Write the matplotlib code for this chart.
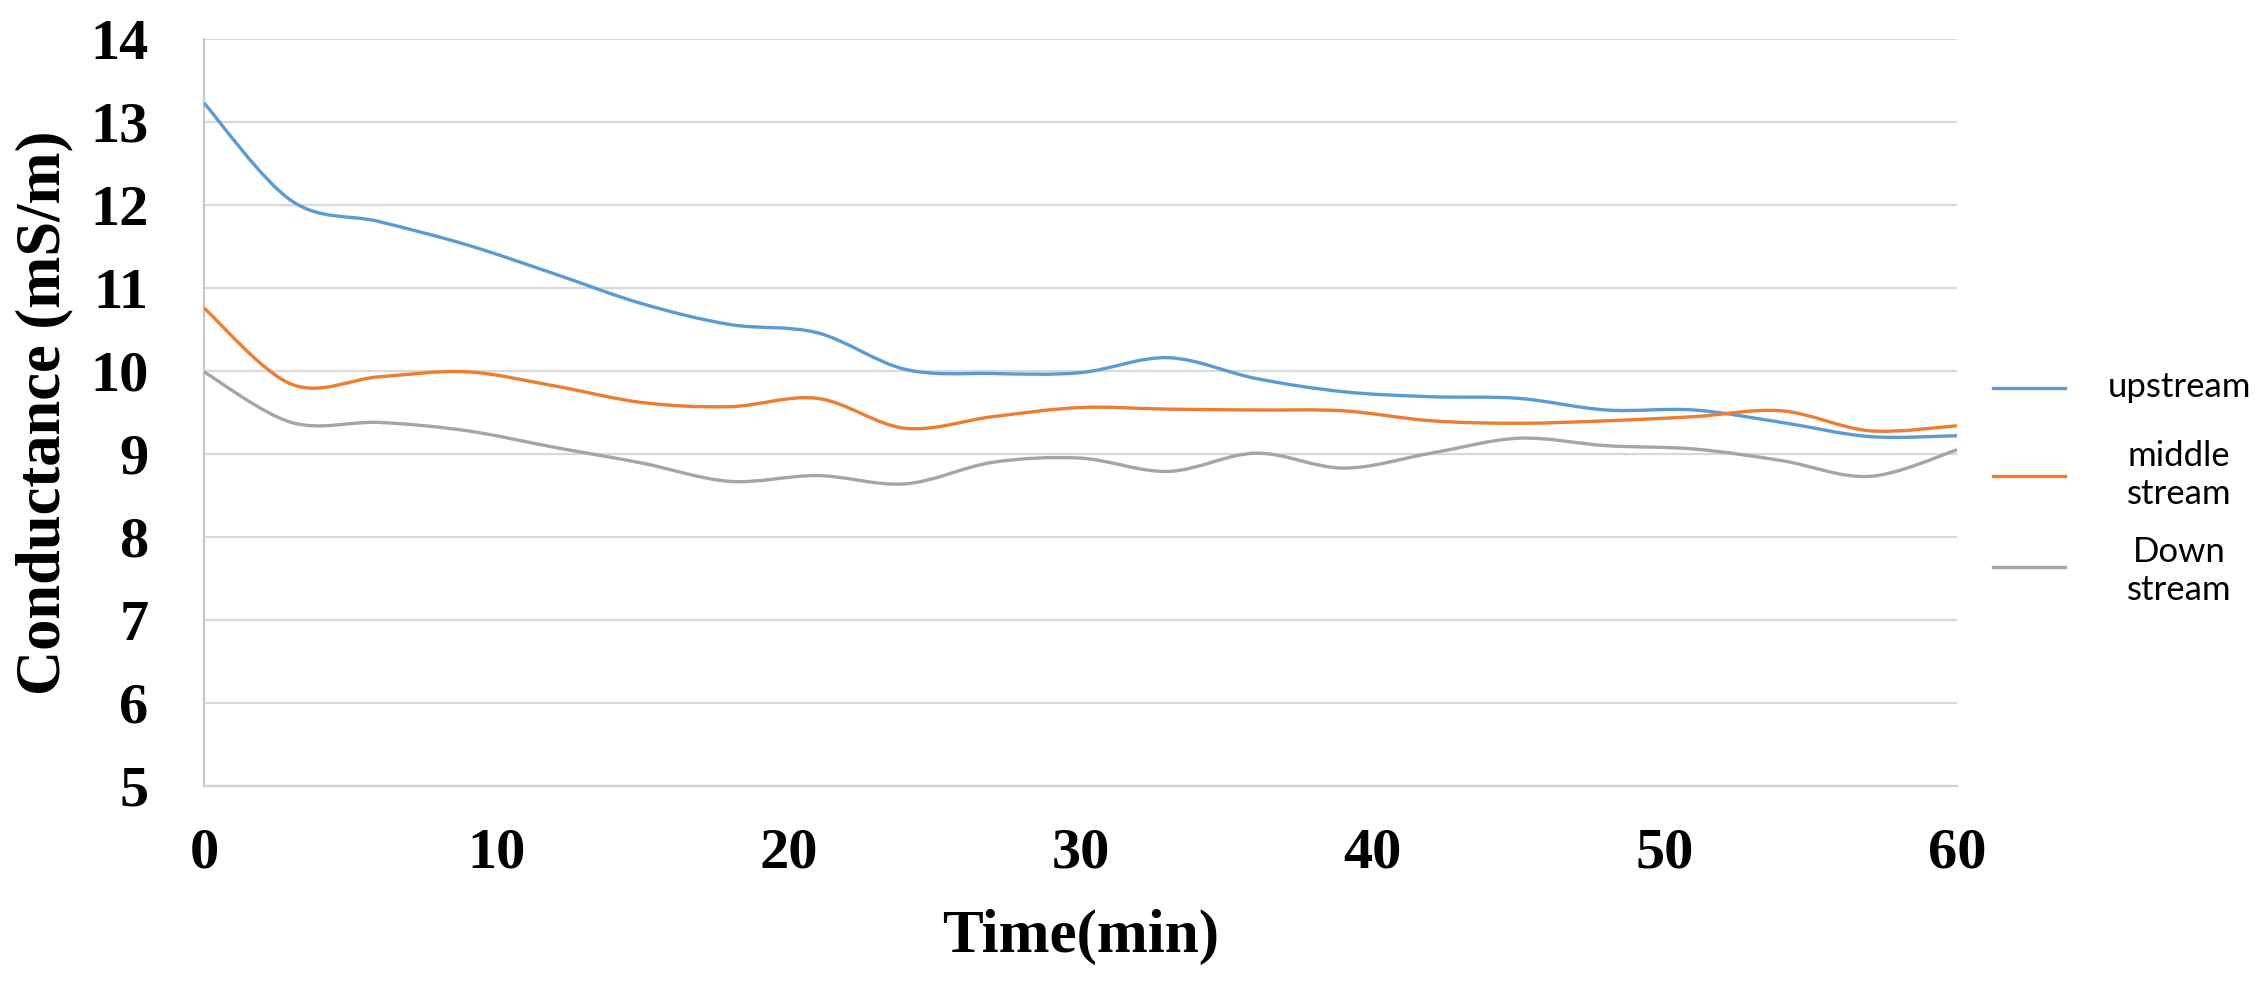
import matplotlib

matplotlib.use('Agg')

import numpy as np
import matplotlib.pyplot as plt
from matplotlib.path import Path
from matplotlib.patches import PathPatch
from matplotlib.lines import Line2D

# time (min), readings every 3 minutes
time_min = [0, 3, 6, 9, 12, 15, 18, 21, 24, 27, 30, 33, 36, 39, 42, 45, 48, 51, 54, 57, 60]

upstream = [13.23, 12.05, 11.80, 11.52, 11.17, 10.81, 10.56, 10.46, 10.02, 9.97, 9.98,
            10.16, 9.91, 9.75, 9.69, 9.67, 9.53, 9.53, 9.38, 9.21, 9.22]
middle_stream = [10.76, 9.84, 9.93, 9.99, 9.82, 9.62, 9.57, 9.67, 9.31, 9.45, 9.56,
                 9.54, 9.53, 9.52, 9.40, 9.37, 9.40, 9.45, 9.52, 9.28, 9.34]
down_stream = [9.99, 9.38, 9.38, 9.28, 9.08, 8.89, 8.67, 8.74, 8.64, 8.90, 8.95,
               8.79, 9.01, 8.83, 9.01, 9.19, 9.10, 9.06, 8.92, 8.73, 9.05]

series_labels = ['upstream', 'middle\nstream', 'Down\nstream']
series_colors = ['#5B9BD5', '#ED7D31', '#A5A5A5']

x_ticks = [0, 10, 20, 30, 40, 50, 60]
y_ticks = [5, 6, 7, 8, 9, 10, 11, 12, 13, 14]


def smooth_path(x, y):
    # Excel-style smoothed line: cubic Bezier through every data point
    x = np.asarray(x, float)
    y = np.asarray(y, float)
    n = len(x)
    verts = [(x[0], y[0])]
    codes = [Path.MOVETO]
    for i in range(n - 1):
        i0 = max(i - 1, 0)
        i3 = min(i + 2, n - 1)
        c1 = (x[i] + (x[i + 1] - x[i0]) / 6, y[i] + (y[i + 1] - y[i0]) / 6)
        c2 = (x[i + 1] - (x[i3] - x[i]) / 6, y[i + 1] - (y[i3] - y[i]) / 6)
        verts += [c1, c2, (x[i + 1], y[i + 1])]
        codes += [Path.CURVE4] * 3
    return Path(verts, codes)


W, H = 2261, 982
fig = plt.figure(figsize=(W / 100, H / 100), dpi=100)
ax = fig.add_axes([0.0902, 0.1996, 0.7754, 0.7607])

serif = 'Liberation Serif'

for vals, col in zip([upstream, middle_stream, down_stream], series_colors):
    patch = PathPatch(smooth_path(time_min, vals), facecolor='none', edgecolor=col,
                      lw=2.4, transform=ax.transData, zorder=3)
    ax.add_patch(patch)

ax.set_xlim(0, 60)
ax.set_ylim(5, 14)
ax.set_xticks(x_ticks)
ax.set_yticks(y_ticks)
ax.set_xticklabels([str(v) for v in x_ticks], fontfamily=serif, fontweight='bold', fontsize=42)
ax.set_yticklabels([str(v) for v in y_ticks], fontfamily=serif, fontweight='bold', fontsize=42)
ax.tick_params(axis='x', length=0, pad=30)
ax.tick_params(axis='y', length=0, pad=40)

ax.grid(True, axis='y', color='#D9D9D9', lw=1.6)
ax.set_axisbelow(True)
for side in ['top', 'right']:
    ax.spines[side].set_visible(False)
ax.spines['left'].set_color('#C8C8C8')
ax.spines['left'].set_linewidth(1.6)
ax.spines['bottom'].set_color('#D0D0D0')
ax.spines['bottom'].set_linewidth(1.6)

ax.set_xlabel('Time(min)', fontfamily=serif, fontweight='bold', fontsize=44, va='center')
ax.xaxis.set_label_coords(0.5, -0.202)
ax.set_ylabel('Conductance (mS/m)', fontfamily=serif, fontweight='bold', fontsize=45, va='center')
ax.yaxis.set_label_coords(-0.0907, 0.5)

# legend drawn by hand: key line on the left, centred label on the right
key_rows = [388, 476, 567]
text_rows = [387, 475, 571]
for lab, col, ky, ty in zip(series_labels, series_colors, key_rows, text_rows):
    fig.add_artist(Line2D([1993 / W, 2065 / W], [1 - ky / H, 1 - ky / H],
                          color=col, lw=2.4, transform=fig.transFigure))
    fig.text(2179 / W, 1 - ty / H, lab, ha='center', va='center', multialignment='center',
             family='Lato', fontsize=25, linespacing=1.25)

fig.savefig('out.png', dpi=100, facecolor='white')
